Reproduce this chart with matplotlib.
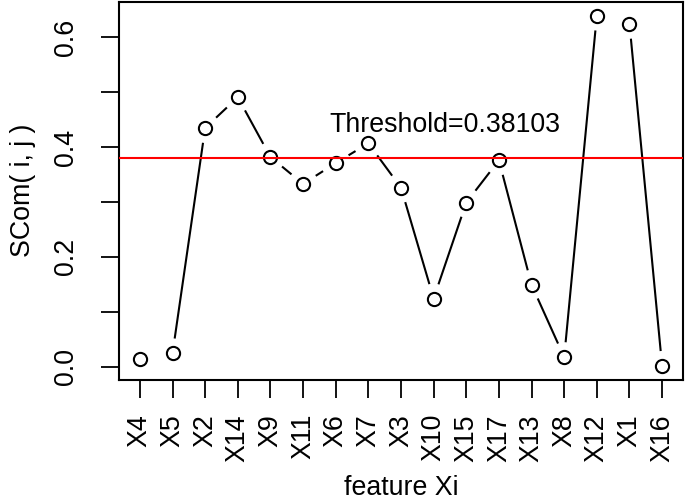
import numpy as np
import matplotlib.pyplot as plt

plt.rcParams['font.family'] = ['Liberation Sans', 'DejaVu Sans']
plt.rcParams['font.size'] = 19.3

# Dados
features = ['X4', 'X5', 'X2', 'X14', 'X9', 'X11', 'X6', 'X7', 'X3', 'X10',
            'X15', 'X17', 'X13', 'X8', 'X12', 'X1', 'X16']
scom = [0.013, 0.024, 0.435, 0.491, 0.382, 0.333, 0.371, 0.407, 0.326, 0.124,
        0.299, 0.376, 0.149, 0.017, 0.640, 0.625, 0.001]
threshold = 0.38103

x = np.arange(1, len(features) + 1)
y = np.array(scom)

fig = plt.figure(figsize=(6.85, 5.01), dpi=100)
ax = fig.add_axes([119 / 685, 121 / 501, 564 / 685, 378.5 / 501])

ax.set_xlim(1 - 0.04 * 16, 17 + 0.04 * 16)
rng = y.max() - y.min()
ax.set_ylim(y.min() - 0.04 * rng, y.max() + 0.04 * rng)

# Linhas estilo R type="b" (com espaço em volta dos pontos)
gap = 15.0
pts = ax.transData.transform(np.column_stack([x, y]))
inv = ax.transData.inverted()
for p0, p1 in zip(pts[:-1], pts[1:]):
    d = p1 - p0
    dist = np.hypot(*d)
    if dist <= 2 * gap + 4:
        continue
    u = d / dist
    a = inv.transform(p0 + u * gap)
    b = inv.transform(p1 - u * gap)
    ax.plot([a[0], b[0]], [a[1], b[1]], color='black', linewidth=1.5,
            solid_capstyle='butt')

ax.plot(x, y, linestyle='none', marker='o', markersize=9.5,
        markerfacecolor='none', markeredgecolor='black', markeredgewidth=1.5)

ax.axhline(threshold, color='red', linewidth=1.5, zorder=5)
ax.text(10.35, 0.44, f'Threshold={threshold}', ha='center', va='center')

ax.set_xticks(x)
ax.set_xticklabels(features, rotation=90, va='top', ha='center')
yt = np.arange(0, 0.61, 0.1)
ax.set_yticks(yt)
ax.set_yticklabels([f'{v:.1f}' if i % 2 == 0 else '' for i, v in enumerate(yt)],
                   rotation=90, va='center')

ax.tick_params(axis='x', length=13, width=1.3, pad=11.5)
ax.tick_params(axis='y', length=13, width=1.3, pad=16)
for s in ax.spines.values():
    s.set_linewidth(1.5)

ax.set_xlabel('feature Xi')
ax.set_ylabel('SCom( i, j )')
ax.xaxis.set_label_coords(0.5, -0.25)
ax.yaxis.set_label_coords(-0.148, 0.5)

fig.savefig('out.png', dpi=100)
